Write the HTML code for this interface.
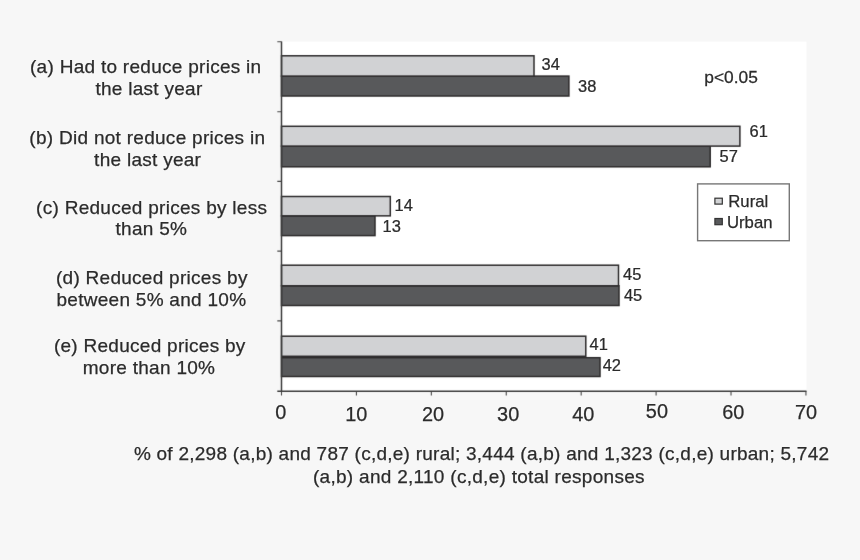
<!DOCTYPE html>
<html><head><meta charset="utf-8"><title>Chart</title>
<style>
html,body{margin:0;padding:0;background:#f7f7f7;}
body{width:860px;height:560px;overflow:hidden;position:relative;}
svg{position:absolute;left:0;top:0;display:block;}
text{font-family:"Liberation Sans",Arial,sans-serif;fill:#2b2b2b;stroke:#2b2b2b;stroke-width:0.25px;}
.cat{font-size:19px;letter-spacing:0.28px;text-anchor:middle;}
.val{font-size:16.2px;}
.tick{font-size:19.9px;text-anchor:middle;}
.foot{font-size:19px;letter-spacing:0.25px;text-anchor:middle;}
.leg{font-size:16.7px;}
.bar{stroke:#2e2c2d;stroke-width:1.5;}
.r{fill:#d1d2d4;}
.u{fill:#58595b;}
.ax{stroke:#3d3d3d;stroke-width:1.5;fill:none;}
.tk{stroke:#4a4a4a;stroke-width:1.1;fill:none;}
</style></head><body>
<svg width="860" height="560" viewBox="0 0 860 560">
<defs><filter id="bl" filterUnits="userSpaceOnUse" x="0" y="0" width="860" height="560" color-interpolation-filters="sRGB"><feConvolveMatrix order="3" kernelMatrix="0.00524 0.06192 0.00524 0.06192 0.73137 0.06192 0.00524 0.06192 0.00524" edgeMode="none" preserveAlpha="false"/></filter></defs>
<rect x="0" y="0" width="860" height="560" fill="#f7f7f7"/>
<rect x="281.5" y="41.6" width="525" height="349.6" fill="#ffffff"/>
<g filter="url(#bl)">
<g class="bar">
<rect class="u" x="281.5" y="76.1" width="287.40" height="19.90"/>
<rect class="r" x="281.5" y="55.8" width="252.50" height="20.30"/>
<rect class="u" x="281.5" y="146.1" width="428.70" height="20.70"/>
<rect class="r" x="281.5" y="126.3" width="458.40" height="19.80"/>
<rect class="u" x="281.5" y="215.85" width="93.50" height="19.75"/>
<rect class="r" x="281.5" y="196.5" width="108.80" height="19.35"/>
<rect class="u" x="281.5" y="285.8" width="337.50" height="19.70"/>
<rect class="r" x="281.5" y="265.2" width="337.00" height="20.60"/>
<rect class="u" x="281.5" y="357.7" width="318.50" height="18.80"/>
<rect class="r" x="281.5" y="336.2" width="304.30" height="20.10"/>
</g>
<path class="tk" d="M277.3 41.8H281.5 M277.3 111.7H281.5 M277.3 181.4H281.5 M277.3 251.1H281.5 M277.3 320.9H281.5 M281.50 391.2V395.6 M356.42 391.2V395.6 M431.34 391.2V395.6 M506.26 391.2V395.6 M581.18 391.2V395.6 M656.10 391.2V395.6 M731.02 391.2V395.6 M805.94 391.2V395.6"/>
<path class="ax" d="M281.5 41.5V391.2 M277.3 391.2H806.5"/>
</g>
<g class="cat">
<text x="145.75" y="72.9">(a) Had to reduce prices in</text>
<text x="148.95" y="94.85">the last year</text>
<text x="147.35" y="144">(b) Did not reduce prices in</text>
<text x="147.65" y="165.8">the last year</text>
<text x="151.7" y="213.5">(c) Reduced prices by less</text>
<text x="151.4" y="235.1">than 5%</text>
<text x="151.8" y="283.9">(d) Reduced prices by</text>
<text x="151.4" y="305.5">between 5% and 10%</text>
<text x="149.75" y="352.2">(e) Reduced prices by</text>
<text x="149.0" y="374.0">more than 10%</text>
</g>
<g class="val">
<text transform="translate(541.55,70.2) scale(1.015,1)">34</text>
<text transform="translate(578.05,92.3) scale(1.015,1)">38</text>
<text transform="translate(749.55,136.9) scale(1.015,1)">61</text>
<text transform="translate(719.55,162.2) scale(1.015,1)">57</text>
<text transform="translate(394.55,211) scale(1.015,1)">14</text>
<text transform="translate(382.55,232) scale(1.015,1)">13</text>
<text transform="translate(623.05,279.8) scale(1.015,1)">45</text>
<text transform="translate(623.95,300.8) scale(1.015,1)">45</text>
<text transform="translate(589.55,350) scale(1.015,1)">41</text>
<text transform="translate(602.65,371) scale(1.015,1)">42</text>
</g>
<g class="tick">
<text x="280.90" y="419.2">0</text>
<text x="356.22" y="420.6">10</text>
<text x="432.94" y="420.6">20</text>
<text x="508.16" y="420.6">30</text>
<text x="583.28" y="420.6">40</text>
<text x="656.90" y="418.3">50</text>
<text x="733.32" y="419.2">60</text>
<text x="806.14" y="419.2">70</text>
</g>
<text class="leg" transform="translate(704.25,83.1) scale(1.04,1)">p&lt;0.05</text>
<rect x="697.6" y="183.9" width="91.7" height="56.8" fill="#ffffff" stroke="#777" stroke-width="1.4"/>
<rect x="714.9" y="198.2" width="7.4" height="5.9" fill="#d1d2d4" stroke="#333" stroke-width="1.2"/>
<rect x="714.9" y="218.5" width="7.4" height="6.2" fill="#58595b" stroke="#333" stroke-width="1.2"/>
<text class="leg" transform="translate(728.3,207.4) scale(1.0,1)">Rural</text>
<text class="leg" transform="translate(727,227.9) scale(1.0,1)">Urban</text>
<g class="foot">
<text x="481.6" y="460.2">% of 2,298 (a,b) and 787 (c,d,e) rural; 3,444 (a,b) and 1,323 (c,d,e) urban; 5,742</text>
<text x="478.9" y="483.4" style="letter-spacing:0.285px">(a,b) and 2,110 (c,d,e) total responses</text>
</g>
</svg>
</body></html>
